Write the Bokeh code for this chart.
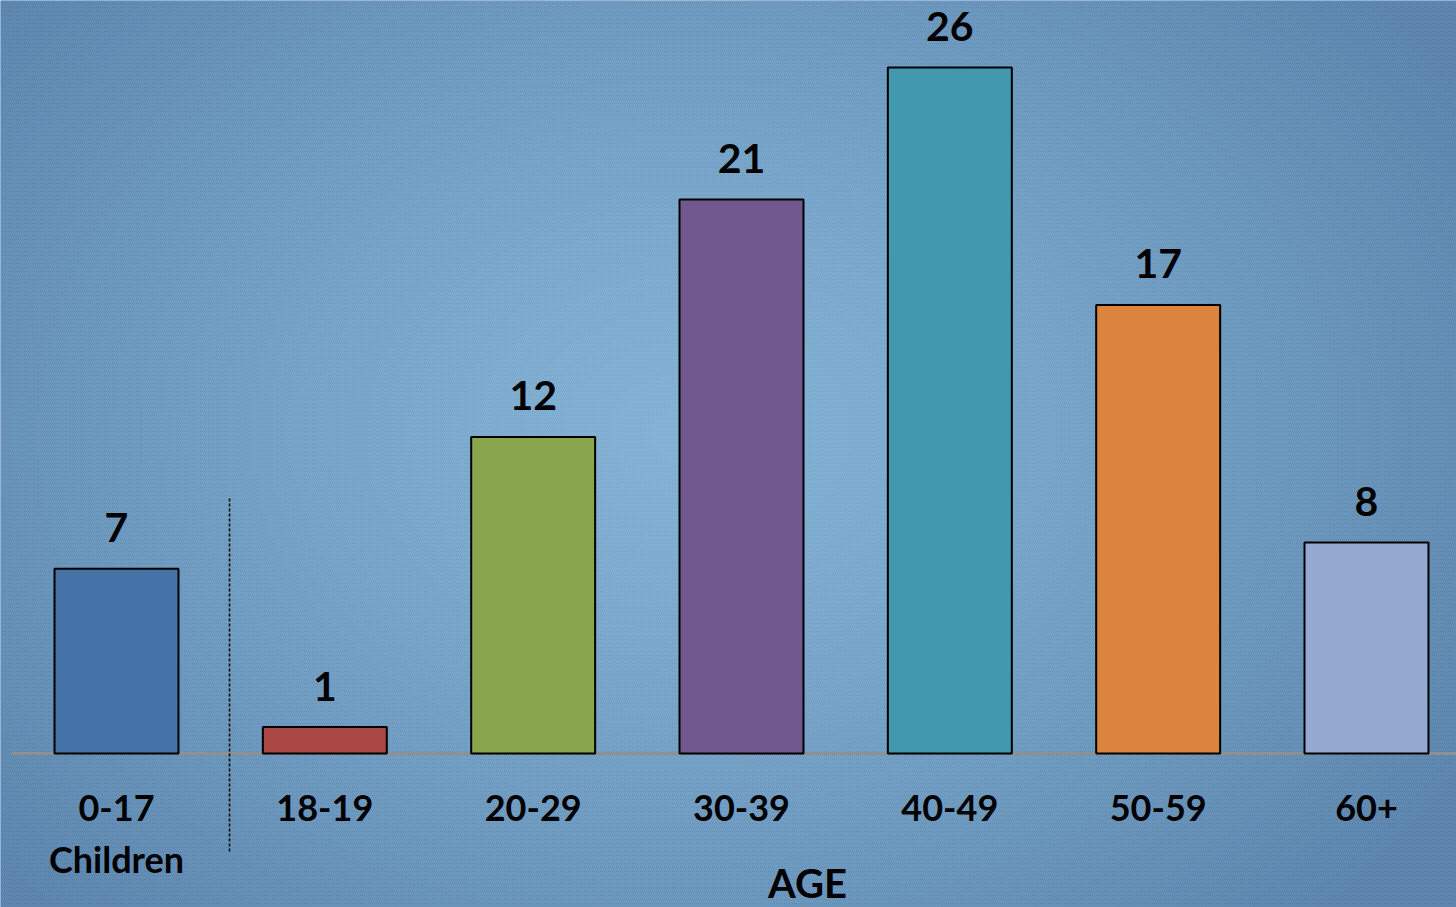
import numpy as np
from bokeh.plotting import figure
from bokeh.models import Label, ColumnDataSource
from bokeh.core.properties import value
from bokeh.embed import file_html
from bokeh.resources import INLINE

# ---- data ----
categories = ["0-17", "18-19", "20-29", "30-39", "40-49", "50-59", "60+"]
sublabels = ["Children", "", "", "", "", "", ""]
counts = [7, 1, 12, 21, 26, 17, 8]
bar_colors = ["#4573A7", "#AA4643", "#89A54E", "#71588F", "#4198AF", "#DB843D", "#93A9CF"]
axis_title = "AGE"

W, H = 1456, 907
FONT = "Lato"

idx = list(range(len(categories)))
x0, x1 = -0.5568, 6.432
y0, y1 = -5.838, 28.54

p = figure(width=W, height=H, output_backend="svg", toolbar_location=None,
           x_range=(x0, x1), y_range=(y0, y1),
           x_axis_type=None, y_axis_type=None, min_border=0,
           tools="")
p.grid.visible = False
p.outline_line_color = None
p.background_fill_color = "#5a8fbf"
p.border_fill_color = "#5a8fbf"

# background radial gradient
ny, nx = 180, 290
yy, xx = np.mgrid[0:ny, 0:nx]
cx, cy = nx * 0.47, ny * 0.52
d = np.sqrt(((xx - cx) / (nx * 0.62)) ** 2 + ((yy - cy) / (ny * 0.75)) ** 2)
d = np.clip(d, 0, 1) ** 1.3
c_in = np.array([0x6C, 0xA4, 0xCC], dtype=float)
c_out = np.array([0x3E, 0x6E, 0x9E], dtype=float)
rgb = c_in[None, None, :] * (1 - d[..., None]) + c_out[None, None, :] * d[..., None]
img = np.empty((ny, nx), dtype=np.uint32)
view = img.view(dtype=np.uint8).reshape((ny, nx, 4))
view[..., 0] = rgb[..., 0].astype(np.uint8)
view[..., 1] = rgb[..., 1].astype(np.uint8)
view[..., 2] = rgb[..., 2].astype(np.uint8)
view[..., 3] = 255
p.image_rgba(image=[img], x=x0, y=y0, dw=x1 - x0, dh=y1 - y0)

# diagonal stripe texture
p.quad(left=x0, right=x1, bottom=y0, top=y1, fill_alpha=0, line_alpha=0,
       hatch_pattern="\\", hatch_color="#ffffff", hatch_alpha=0.2,
       hatch_scale=4, hatch_weight=1.5)

src = ColumnDataSource(dict(x=idx, v=counts, c=bar_colors, cat=categories,
                            sub=sublabels, lbl=[str(v) for v in counts]))

# baseline
p.segment(x0=-0.5, y0=0, x1=x1, y1=0, line_color="#909090", line_width=3)

# bars
p.vbar(x="x", top="v", bottom=0, width=0.595, fill_color="c",
       line_color="#000000", line_width=2, source=src)

# separator between children and adults
p.segment(x0=0.5425, y0=9.66, x1=0.5425, y1=-3.79, line_color="#0a0a0a",
          line_width=1.6, line_dash="3 2")

# value labels
p.text(x="x", y="v", text="lbl", source=src, y_offset=-41,
       text_font=value(FONT), text_font_style="bold", text_font_size="41px",
       text_align="center", text_baseline="alphabetic", text_color="#000000")

# category labels
p.text(x="x", y=0, text="cat", source=src, y_offset=55,
       text_font=value(FONT), text_font_style="bold", text_font_size="36px",
       text_align="center", text_baseline="alphabetic", text_color="#000000")
p.text(x="x", y=0, text="sub", source=src, y_offset=106,
       text_font=value(FONT), text_font_style="bold", text_font_size="36px",
       text_align="center", text_baseline="alphabetic", text_color="#000000")

# axis title
p.add_layout(Label(x=807, y=1, x_units="screen", y_units="screen", text=axis_title,
                   text_font=FONT, text_font_style="bold", text_font_size="40px",
                   text_align="center", text_baseline="bottom", text_color="#000000"))

open("out.html", "w").write(file_html(p, INLINE))
